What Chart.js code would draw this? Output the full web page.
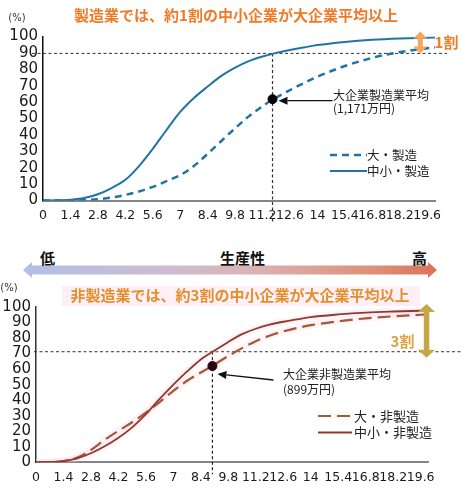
<!DOCTYPE html>
<html><head><meta charset="utf-8">
<script src="https://cdn.jsdelivr.net/npm/chart.js@4.4.1/dist/chart.umd.min.js"></script>
<style>
html,body{margin:0;padding:0;background:#fff;width:463px;height:488px;overflow:hidden;position:relative;}
canvas{position:absolute;left:0;}
#c1{top:0;}
#c2{top:280px;}
.mid{position:absolute;font-family:"Noto Sans CJK JP";font-weight:bold;font-size:15px;color:#111;line-height:1;transform:translate(-50%,-50%);white-space:nowrap;}
#band{position:absolute;left:23px;top:262px;width:414px;height:16px;
background:linear-gradient(90deg,#b2bfe8 0%,#cdbcd2 35%,#d9b4b4 55%,#de8f78 85%,#d9735a 100%);
clip-path:polygon(0 50%,9px 0,9px 3.5px,405px 3.5px,405px 0,100% 50%,405px 100%,405px 12.5px,9px 12.5px,9px 100%);}
</style></head>
<body>
<canvas id="c1" width="463" height="235"></canvas>
<div id="band"></div>
<div class="mid" style="left:47.5px;top:257px;">低</div>
<div class="mid" style="left:242.5px;top:257px;">生産性</div>
<div class="mid" style="left:419.5px;top:257px;">高</div>
<canvas id="c2" width="463" height="208"></canvas>
<script>
// ---- data (x: 生産性, 百万円 ; y: 累積割合 %) ----
const xValues      = [0,0.7,1.4,2.1,2.8,3.5,4.2,4.9,5.6,6.3,7,7.7,8.4,9.1,9.8,10.5,11.2,11.9,12.6,13.3,14,15.4,16.8,18.2,19.6,20];
const smeMfg       = [0,0.1,0.5,1.5,3.8,7.6,12.6,21,31.5,43,54,62.5,69.5,76,81,85,87.8,90,91.8,93.3,94.8,96.7,98,98.8,99.3,99.4];
const largeMfg     = [0,0,0.1,0.3,0.8,1.8,3.4,5.5,8.3,11.8,15.5,21,28.5,36.3,44,51.3,57.5,62.8,67.3,71.5,75.5,82,87,90.5,92.8,93.3];
const smeNonMfg    = [0,0.2,0.8,2.6,5.8,10.3,15.8,22.5,31,40.8,50,58.5,66.2,72,77.5,82.5,86,88.6,90.5,92,93.5,95.2,96.4,97.1,97.6,97.7];
const largeNonMfg  = [0,0.2,0.8,3,8,14.5,20.3,25.8,32,38.8,46,52.5,57.8,63,68.5,73.5,78,81.5,84.3,86.5,88.3,90.8,92.7,94,95,95.3];
const xTickLabels  = [0,1.4,2.8,4.2,5.6,7,8.4,9.8,11.2,12.6,14,15.4,16.8,18.2,19.6];
const yTickLabels  = [0,10,20,30,40,50,60,70,80,90,100];
const avgLargeMfg    = [11.71, 61.8];   // 大企業製造業平均 1,171万円
const avgLargeNonMfg = [8.99, 62.0];    // 大企業非製造業平均 899万円
const shareLineMfg    = 89.7;
const shareLineNonMfg = 71.2;

const pts = arr => arr.map((v,i)=>({x:xValues[i], y:v}));
const JP = '"Noto Sans CJK JP", sans-serif';

function vArrow(ctx,x,y1,y2,sw,hw,hl,color){
  ctx.save(); ctx.fillStyle=color; ctx.beginPath();
  ctx.moveTo(x,y1); ctx.lineTo(x+hw/2,y1+hl); ctx.lineTo(x+sw/2,y1+hl); ctx.lineTo(x+sw/2,y2-hl);
  ctx.lineTo(x+hw/2,y2-hl); ctx.lineTo(x,y2); ctx.lineTo(x-hw/2,y2-hl); ctx.lineTo(x-sw/2,y2-hl);
  ctx.lineTo(x-sw/2,y1+hl); ctx.lineTo(x-hw/2,y1+hl); ctx.closePath(); ctx.fill(); ctx.restore();
}
function pointer(ctx,x1,y1,x2,y2){
  ctx.save(); ctx.strokeStyle='#111'; ctx.fillStyle='#111'; ctx.lineWidth=1.3;
  const a=Math.atan2(y2-y1,x2-x1), L=9, W=4;
  const bx=x2-L*Math.cos(a), by=y2-L*Math.sin(a);
  ctx.beginPath(); ctx.moveTo(x1,y1); ctx.lineTo(bx,by); ctx.stroke();
  ctx.beginPath(); ctx.moveTo(x2,y2);
  ctx.lineTo(bx+W*Math.sin(a), by-W*Math.cos(a)); ctx.lineTo(bx-W*Math.sin(a), by+W*Math.cos(a));
  ctx.closePath(); ctx.fill(); ctx.restore();
}
function dashLine(ctx,x1,y1,x2,y2,dash,color,w){
  ctx.save(); ctx.strokeStyle=color; ctx.lineWidth=w; ctx.setLineDash(dash);
  ctx.beginPath(); ctx.moveTo(x1,y1); ctx.lineTo(x2,y2); ctx.stroke(); ctx.restore();
}
function txt(ctx,s,x,y,font,color,align){
  ctx.save(); ctx.font=font; ctx.fillStyle=color; ctx.textAlign=align||'left'; ctx.textBaseline='middle';
  ctx.fillText(s,x,y); ctx.restore();
}

function baseOptions(c){
  return {
    responsive:false, animation:false,
    layout:{padding:{left:0,right:c.padR,top:c.padT,bottom:c.padB}},
    plugins:{legend:{display:false}, tooltip:{enabled:false}, title:{display:false}},
    elements:{line:{cubicInterpolationMode:'monotone'}},
    scales:{
      x:{type:'linear', min:0, max:20,
         afterBuildTicks:s=>{s.ticks=xTickLabels.map(v=>({value:v}));},
         afterFit:s=>{s.height=c.xH;},
         grid:{display:false, drawTicks:false},
         border:{display:true, color:'#858585', width:2},
         ticks:{autoSkip:false, maxRotation:0, minRotation:0, padding:8, color:'#1a1a1a',
                font:{family:'DejaVu Sans', size:12.5}, callback:v=>String(v)}},
      y:{min:0, max:100,
         afterBuildTicks:s=>{s.ticks=yTickLabels.map(v=>({value:v}));},
         afterFit:s=>{s.width=c.yW;},
         grid:{display:false, drawTicks:false},
         border:{display:true, color:c.yAxisColor, width:1.5},
         ticks:{autoSkip:false, padding:5, color:'#1a1a1a', font:{family:'DejaVu Sans', size:15}, callback:v=>String(v)}}
    }
  };
}

// ---------- Top chart: 製造業 ----------
const blue='#1f74a6';
const topPlugin={
  id:'topAnno',
  beforeDatasetsDraw(ch){
    const {ctx,scales:{x,y},chartArea:a}=ch;
    const yl=y.getPixelForValue(shareLineMfg), xv=x.getPixelForValue(avgLargeMfg[0]);
    dashLine(ctx,a.left-11,yl,a.right+12,yl,[3,2.5],'#333',1);
    dashLine(ctx,xv,yl,xv,a.bottom+22,[3,2.5],'#333',1.2);
  },
  afterDraw(ch){
    const {ctx,scales:{x,y},chartArea:a}=ch;
    txt(ctx,'製造業では、約1割の中小企業が大企業平均以上',236,15,'bold 15px '+JP,'#f07a26','center');
    txt(ctx,'(%)',17,18,'10px "DejaVu Sans"','#333','center');
    const dx=x.getPixelForValue(avgLargeMfg[0]), dy=y.getPixelForValue(avgLargeMfg[1]);
    pointer(ctx,dx+60,dy+1.5,dx+6,dy+1.5);
    txt(ctx,'大企業製造業平均',333,95,'12px '+JP,'#222');
    txt(ctx,'(1,171万円)',333,108,'12px '+JP,'#222');
    // legend
    dashLine(ctx,330,155,367,155,[7,5],blue,2.5);
    dashLine(ctx,330,171,367,171,[],blue,2);
    txt(ctx,'大・製造',367,155,'12.5px '+JP,'#222');
    txt(ctx,'中小・製造',367,171,'12.5px '+JP,'#222');
    // 1割 arrow
    const ax=x.getPixelForValue(19.25);
    vArrow(ctx,ax,a.top-5,y.getPixelForValue(shareLineMfg),5,14,7,'#f5a55e');
    txt(ctx,'1割',446.5,42,'bold 15px '+JP,'#f07a26','center');
  }
};
new Chart(document.getElementById('c1'),{
  type:'line',
  data:{datasets:[
    {label:'大企業製造業平均', data:[{x:avgLargeMfg[0],y:avgLargeMfg[1]}], showLine:false, pointRadius:4.5,
     pointBackgroundColor:'#000', pointBorderColor:'#000'},
    {label:'中小・製造', data:pts(smeMfg), borderColor:blue, borderWidth:2, pointRadius:0},
    {label:'大・製造', data:pts(largeMfg), borderColor:blue, borderWidth:2.5, borderDash:[7,5], pointRadius:0}
  ]},
  options:baseOptions({padR:28,padT:36.5,padB:4.5,xH:30,yW:43,yAxisColor:'#111'}),
  plugins:[topPlugin]
});

// ---------- Bottom chart: 非製造業 ----------
const brownSolid='#8e3a2c', brownDash='#a3583a', gold='#e3902c';
const botPlugin={
  id:'botAnno',
  beforeDraw(ch){
    const ctx=ch.ctx; ctx.save(); ctx.fillStyle='rgba(255,226,238,0.55)';
    ctx.fillRect(62,6,358,20); ctx.restore();
  },
  beforeDatasetsDraw(ch){
    const {ctx,scales:{x,y},chartArea:a}=ch;
    const yl=y.getPixelForValue(shareLineNonMfg), xv=x.getPixelForValue(avgLargeNonMfg[0]);
    dashLine(ctx,a.left-2,yl,463,yl,[3,2.5],'#333',1);
    dashLine(ctx,xv,yl,xv,a.bottom+12,[3,2.5],'#222',1.2);
  },
  afterDraw(ch){
    const {ctx,scales:{x,y},chartArea:a}=ch;
    txt(ctx,'非製造業では、約3割の中小企業が大企業平均以上',240,15,'bold 15px '+JP,gold,'center');
    txt(ctx,'(%)',9,8.5,'10px "DejaVu Sans"','#333','center');
    const dx=x.getPixelForValue(avgLargeNonMfg[0]), dy=y.getPixelForValue(avgLargeNonMfg[1]);
    pointer(ctx,dx+61,dy+14,dx+5,dy+8);
    txt(ctx,'大企業非製造業平均',283,94,'12px '+JP,'#222');
    txt(ctx,'(899万円)',283,109,'12px '+JP,'#222');
    // legend
    dashLine(ctx,318,136,352,136,[13,6],brownDash,2.2);
    dashLine(ctx,318,152.5,352,152.5,[],brownSolid,2);
    txt(ctx,'大・非製造',354,136,'13px '+JP,'#222');
    txt(ctx,'中小・非製造',354,152.5,'13px '+JP,'#222');
    // 3割 arrow
    const ax=x.getPixelForValue(19.9);
    vArrow(ctx,ax,a.top-3,y.getPixelForValue(shareLineNonMfg)+6,5.5,17,8,'#c9a645');
    txt(ctx,'3割',402.5,61,'bold 15px '+JP,'#dda13e','center');
  }
};
new Chart(document.getElementById('c2'),{
  type:'line',
  data:{datasets:[
    {label:'大企業非製造業平均', data:[{x:avgLargeNonMfg[0],y:avgLargeNonMfg[1]}], showLine:false, pointRadius:4.5,
     pointBackgroundColor:'#2a0514', pointBorderColor:'#2a0514'},
    {label:'中小・非製造', data:pts(smeNonMfg), borderColor:brownSolid, borderWidth:1.8, pointRadius:0},
    {label:'大・非製造', data:pts(largeNonMfg), borderColor:brownDash, borderWidth:2.2, borderDash:[13,6], pointRadius:0},
    {label:'halo1', data:pts(smeNonMfg), borderColor:'rgba(255,200,222,0.22)', borderWidth:7, pointRadius:0},
    {label:'halo2', data:pts(largeNonMfg), borderColor:'rgba(255,200,222,0.22)', borderWidth:7, pointRadius:0}
  ]},
  options:baseOptions({padR:34.5,padT:27,padB:5.7,xH:20,yW:36,yAxisColor:'#333'}),
  plugins:[botPlugin]
});
</script>
</body></html>
